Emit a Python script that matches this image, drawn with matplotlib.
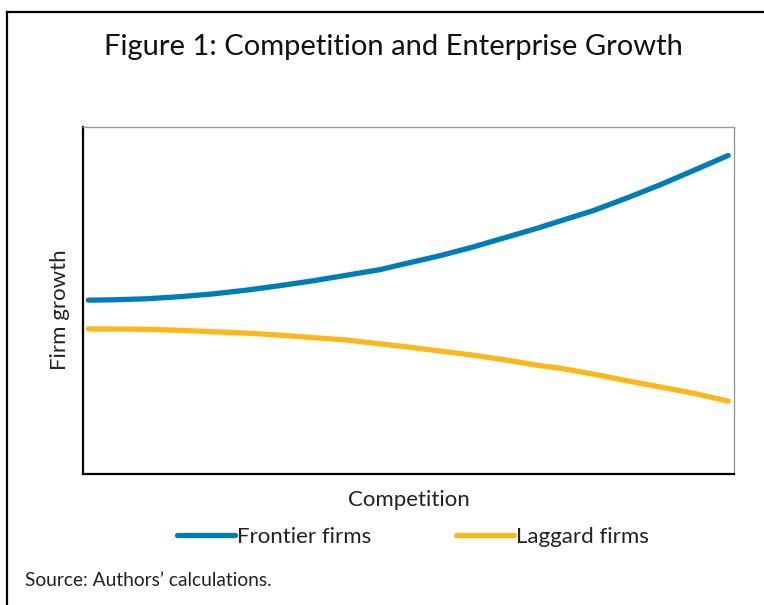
import matplotlib
matplotlib.use("Agg")
import matplotlib.pyplot as plt
from matplotlib.lines import Line2D

plt.rcParams['font.family'] = ['Lato', 'DejaVu Sans']

competition = [0, 3.9, 9.1, 14.3, 19.5, 24.8, 30.0, 35.2, 40.4, 45.6, 49.5,
               54.7, 59.9, 65.1, 70.3, 73.7, 78.9, 84.1, 89.3, 94.5, 100]
frontier = [50.1, 50.2, 50.5, 51.1, 51.9, 53.0, 54.3, 55.7, 57.3, 58.9, 60.6,
            62.8, 65.3, 68.1, 70.9, 72.9, 75.9, 79.5, 83.3, 87.4, 91.8]
laggard = [41.8, 41.8, 41.7, 41.4, 41.0, 40.6, 40.0, 39.3, 38.6, 37.5, 36.7,
           35.5, 34.3, 32.9, 31.3, 30.5, 28.8, 26.9, 25.1, 23.3, 21.0]
series_names = ["Frontier firms", "Laggard firms"]
colors = ["#007DB7", "#FDB71A"]

W, H = 764, 605
fig = plt.figure(figsize=(W / 100, H / 100), dpi=100)
ax = fig.add_axes([83 / W, 1 - 474 / H, (734 - 83) / W, (474 - 127) / H])

ax.plot(competition, frontier, color=colors[0], lw=3.8, solid_capstyle='round',
        solid_joinstyle='round', label=series_names[0])
ax.plot(competition, laggard, color=colors[1], lw=3.8, solid_capstyle='round',
        solid_joinstyle='round', label=series_names[1])

ax.set_xlim(-0.83, 100.9)
ax.set_ylim(0, 100)
ax.set_xticks([])
ax.set_yticks([])
ax.spines['left'].set_color('black')
ax.spines['left'].set_linewidth(1.6)
ax.spines['bottom'].set_color('black')
ax.spines['bottom'].set_linewidth(1.6)
ax.spines['top'].set_color('#999999')
ax.spines['top'].set_linewidth(1.0)
ax.spines['right'].set_color('#999999')
ax.spines['right'].set_linewidth(1.0)

fig.text(393 / W, 1 - 47 / H, "Figure 1: Competition and Enterprise Growth",
         ha='center', va='center', fontsize=21, color='#111111')
fig.text(409 / W, 1 - 500 / H, "Competition", ha='center', va='center',
         fontsize=16, color='#222222')
fig.text(60 / W, 1 - 310 / H, "Firm growth", ha='center', va='center',
         rotation=90, fontsize=16, color='#222222')
fig.text(25 / W, 1 - 580 / H, "Source: Authors\u2019 calculations.", ha='left',
         va='center', fontsize=13.8, color='#222222')

fig.legend(loc='center', bbox_to_anchor=(413 / W, 1 - 537 / H), ncol=2,
           frameon=False, fontsize=16, handlelength=2.6, handletextpad=0.12,
           columnspacing=3.8, labelcolor='#222222')

# figure border (top and left)
fig.add_artist(Line2D([7 / W, 1], [1 - 12 / H, 1 - 12 / H], color='black',
                      lw=1.6, transform=fig.transFigure))
fig.add_artist(Line2D([7 / W, 7 / W], [0, 1 - 12 / H], color='black',
                      lw=1.6, transform=fig.transFigure))

fig.savefig("out.png", dpi=100)
